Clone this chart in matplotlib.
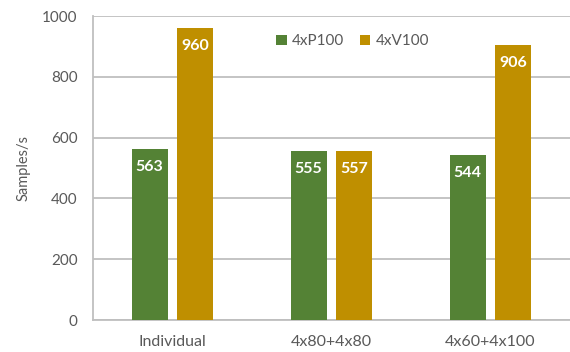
import numpy as np
import matplotlib
matplotlib.use('Agg')
from matplotlib import pyplot as plt

categories = ['Individual', '4x80+4x80', '4x60+4x100']
p100 = [563, 555, 544]
v100 = [960, 557, 906]
series_names = ['4xP100', '4xV100']

GREEN = '#548235'
GOLD = '#BF8F00'
TEXT = '#595959'
GRID = '#BFBFBF'

plt.rcParams['font.family'] = ['Lato', 'DejaVu Sans']

fig = plt.figure(figsize=(5.7, 3.52), dpi=100)
ax = fig.add_axes([0.163, 0.0909, 0.837, 0.8636])

x = np.arange(len(categories))
w = 0.226
off = 0.143
b1 = ax.bar(x - off, p100, w, color=GREEN, label=series_names[0], zorder=3)
b2 = ax.bar(x + off, v100, w, color=GOLD, label=series_names[1], zorder=3)

# value labels sit just inside the top of each bar
for bars in (b1, b2):
    for rect in bars:
        h = rect.get_height()
        ax.annotate(str(int(h)), (rect.get_x() + rect.get_width() / 2, h),
                    xytext=(0, -18), textcoords='offset pixels',
                    ha='center', va='center', color='white',
                    fontsize=11.5, fontweight='bold', zorder=4)

ax.set_xlim(-0.5, len(categories) - 0.5)
ax.set_ylim(0, 1000)
ax.set_yticks(range(0, 1001, 200))
ax.set_xticks(x)
ax.set_xticklabels(categories)
ax.yaxis.grid(True, color=GRID, linewidth=1.3, zorder=0)
ax.tick_params(axis='both', length=0, colors=TEXT)
ax.tick_params(axis='x', pad=11, labelsize=11.5)
ax.tick_params(axis='y', pad=11, labelsize=11)
for s in ('top', 'right'):
    ax.spines[s].set_visible(False)
ax.spines['left'].set_color(GRID)
ax.spines['left'].set_linewidth(1.3)
ax.spines['bottom'].set_color(GRID)
ax.spines['bottom'].set_linewidth(1.3)
ax.set_ylabel('Samples/s', color=TEXT, fontsize=10.5, labelpad=8)

leg = ax.legend(loc='upper left', bbox_to_anchor=(0.355, 0.985), ncol=2,
                frameon=False, handlelength=0.7, handleheight=0.7,
                handletextpad=0.35, columnspacing=1.0, fontsize=11)
for t in leg.get_texts():
    t.set_color(TEXT)

fig.savefig('out.png', dpi=100)
